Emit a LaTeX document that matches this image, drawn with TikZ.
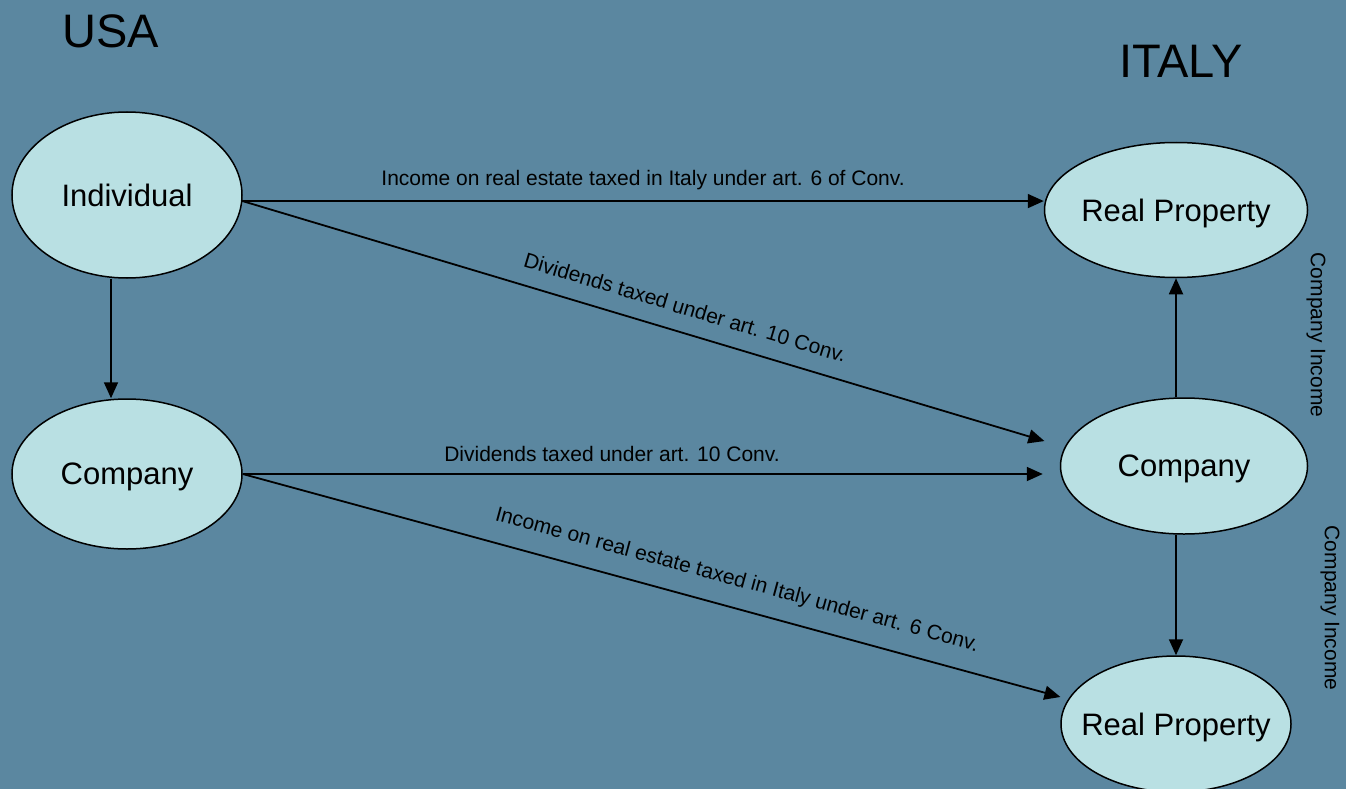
\documentclass[tikz,border=0pt]{standalone}
\usepackage{fontspec}
\setmainfont{Liberation Sans}
\usetikzlibrary{positioning, shapes.geometric, arrows.meta}
\definecolor{slate}{HTML}{5B87A0}
\definecolor{pale}{HTML}{B9E0E3}

\begin{document}
\begin{tikzpicture}[
    x=1pt, y=-1pt,
    place/.style={%
      draw,
      ellipse,
      fill=pale,
      line width=1.5pt,
      inner sep=0pt,
      text depth=0pt,
      font=\fontsize{31}{37}\selectfont,
    },
    flow/.style={%
      draw,
      line width=1.8pt,
      -{Triangle[length=16pt,width=14pt]},
    },
    tag/.style={%
      font=\fontsize{21}{25}\selectfont,
      inner sep=3pt,
    },
    country/.style={%
      font=\fontsize{47}{56}\selectfont,
      anchor=base,
    },
  ]

    \fill [slate] (0,0) rectangle (1346,789);
    \useasboundingbox (0,0) rectangle (1346,789);

    \node [country] (usa) at (111,48) {USA};
    \node [country] (italy) at (1181,78) {ITALY};

    \node [place, minimum width=230pt, minimum height=166pt] (Ind) at (127,195) {\makebox[0pt]{Individual}};
    \path (Ind) ++(0,279) node [place, minimum width=230pt, minimum height=150pt] (CoUS) {\makebox[0pt]{Company}};
    \node [place, minimum width=263pt, minimum height=135pt] (RPtop) at (1176,210) {\makebox[0pt]{Real Property}};
    \path (RPtop) ++(8,256) node [place, minimum width=247pt, minimum height=136pt] (CoIT) {\makebox[0pt]{Company}};
    \path (RPtop) ++(0,514) node [place, minimum width=230pt, minimum height=136pt] (RPbot) {\makebox[0pt]{Real Property}};

    \draw [flow] (Ind.-3.5) -- (Ind.-3.5 -| RPtop.west) node [tag, midway, above=7.5pt] {Income on real estate taxed in Italy under art. 6 of Conv.};
    \draw [flow, shorten >=21pt] (Ind.-3.5) -- (CoIT.171.4) node [tag, sloped, above=13.5pt, pos=0.53] {Dividends taxed under art. 10 Conv.};
    \draw [flow] ([xshift=-16pt]Ind.south) -- ([xshift=-16pt]CoUS.north);
    \draw [flow, shorten >=17pt] (CoUS.east) -- (CoUS.east -| CoIT.west) node [tag, above=8.5pt, pos=0.452] {Dividends taxed under art. 10 Conv.};
    \draw [flow, shorten >=8pt] (CoUS.east) -- (RPbot.167.4) node [tag, sloped, above=13.5pt, pos=0.59] {Income on real estate taxed in Italy under art. 6 Conv.};
    \draw [flow] (RPtop.south |- CoIT.north) -- (RPtop.south);
    \draw [flow] (RPbot.north |- CoIT.south) -- (RPbot.north);

    \node [tag, rotate=-90] (incA) at (1316,335) {Company Income};
    \node [tag, rotate=-90] (incB) at (1330,608) {Company Income};
\end{tikzpicture}
\end{document}
